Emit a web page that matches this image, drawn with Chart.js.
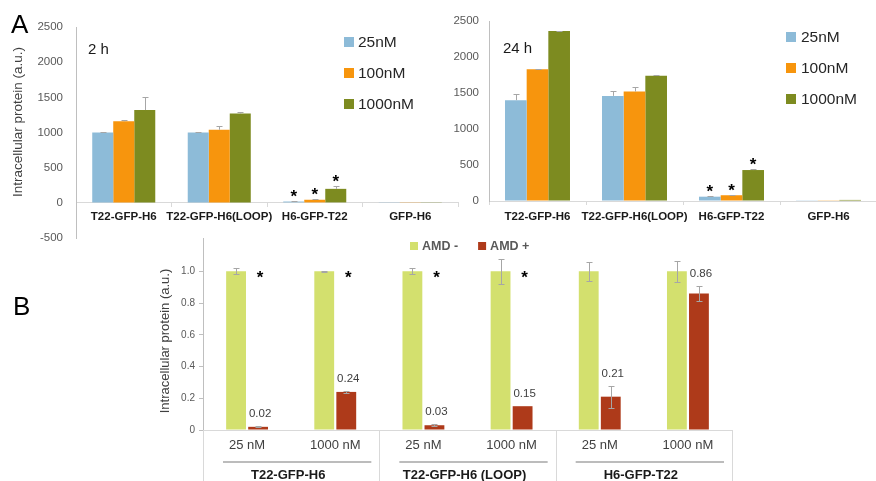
<!DOCTYPE html>
<html>
<head>
<meta charset="utf-8">
<script src="https://cdn.jsdelivr.net/npm/chart.js@4.4.1/dist/chart.umd.min.js"></script>
<style>
html, body { margin: 0; padding: 0; background: #fff; overflow: hidden; }
#wrap { position: relative; width: 876px; height: 481px; }
canvas { position: absolute; }
.lbl { position: absolute; font-family: 'Liberation Sans', Arial, sans-serif; color: #000; white-space: nowrap; line-height: 1; }
</style>
</head>
<body>
<div id="wrap">
  <canvas id="c2h" width="470" height="258" style="left:0;top:0"></canvas>
  <canvas id="c24h" width="440" height="235" style="left:440px;top:0"></canvas>
  <canvas id="cB" width="600" height="253" style="left:150px;top:228px"></canvas>
  <div class="lbl" style="left:11px;top:11px;font-size:26px">A</div>
  <div class="lbl" style="left:13px;top:293px;font-size:26px">B</div>
  <div class="lbl" style="left:88px;top:41px;font-size:15px;color:#1a1a1a">2 h</div>
  <div class="lbl" style="left:503px;top:40px;font-size:15px;color:#1a1a1a">24 h</div>
</div>
<script>
const FONT = "'Liberation Sans', Arial, sans-serif";
Chart.defaults.font.family = FONT;
Chart.defaults.animation = false;

// Panel A: intracellular protein at 2 h and 24 h
const concentrations = ['25nM', '100nM', '1000nM'];
const concColors = ['#8DBBD8', '#F7950D', '#7D8B20'];
const constructsA = ['T22-GFP-H6', 'T22-GFP-H6(LOOP)', 'H6-GFP-T22', 'GFP-H6'];
const ticks2h = [-500, 0, 500, 1000, 1500, 2000, 2500];
const ticks24h = [0, 500, 1000, 1500, 2000, 2500];
const starsA = [false, false, true, false];

const h2_25 = [1000, 1000, 20, 4];
const h2_100 = [1160, 1040, 45, 4];
const h2_1000 = [1320, 1270, 200, 4];
const h2_25Err = [5, 5, 8, 0];
const h2_100Err = [15, 60, 10, 0];
const h2_1000Err = [180, 20, 35, 0];

const h24_25 = [1400, 1460, 60, 10];
const h24_100 = [1830, 1520, 80, 10];
const h24_1000 = [2360, 1740, 430, 15];
const h24_25Err = [80, 70, 5, 0];
const h24_100Err = [10, 60, 5, 0];
const h24_1000Err = [5, 5, 8, 0];

// Panel B: effect of AMD3100
const doseB = ['25 nM', '1000 nM', '25 nM', '1000 nM', '25 nM', '1000 nM'];
const constructsB = ['T22-GFP-H6', 'T22-GFP-H6 (LOOP)', 'H6-GFP-T22'];
const amdLabels = ['AMD -', 'AMD +'];
const amdColors = ['#D3E06E', '#AE3A1A'];
const amdMinus = [1, 1, 1, 1, 1, 1];
const amdMinusErr = [0.02, 0.005, 0.02, 0.08, 0.06, 0.065];
const amdPlus = [0.02, 0.24, 0.03, 0.15, 0.21, 0.86];
const amdPlusErr = [0.004, 0.005, 0.006, 0, 0.07, 0.05];
const starsB = [true, true, true, true, false, false];
const ticksB = [0, 0.2, 0.4, 0.6, 0.8, 1.0];

// ---- small plugins ----
function errorBars(errs, both) {
    return {
        id: 'errorBars',
        afterDatasetsDraw(chart) {
            const ctx = chart.ctx, y = chart.scales.y;
            ctx.save();
            ctx.strokeStyle = '#A6A6A6';
            ctx.lineWidth = 1;
            errs.forEach((list, di) => {
                const vals = chart.data.datasets[di].data;
                chart.getDatasetMeta(di).data.forEach((bar, i) => {
                    const e = list[i];
                    if (!e) return;
                    const x = Math.round(bar.x) + 0.5;
                    const top = Math.round(y.getPixelForValue(vals[i] + e)) + 0.5;
                    const bot = both ? Math.round(y.getPixelForValue(vals[i] - e)) + 0.5 : bar.y;
                    ctx.beginPath();
                    ctx.moveTo(x, top); ctx.lineTo(x, bot);
                    ctx.moveTo(x - 3, top); ctx.lineTo(x + 3, top);
                    if (both) { ctx.moveTo(x - 3, bot); ctx.lineTo(x + 3, bot); }
                    ctx.stroke();
                });
            });
            ctx.restore();
        }
    };
}

function drawStar(ctx, x, cy) {
    ctx.font = 'bold 17px ' + FONT;
    ctx.fillStyle = '#000';
    ctx.textAlign = 'center';
    ctx.textBaseline = 'alphabetic';
    ctx.fillText('*', x, cy + 10);
}

function starsOnBars(flags, errs, offset) {
    return {
        id: 'starsOnBars',
        afterDatasetsDraw(chart) {
            const ctx = chart.ctx, y = chart.scales.y;
            ctx.save();
            chart.data.datasets.forEach((ds, di) => {
                chart.getDatasetMeta(di).data.forEach((bar, i) => {
                    if (!flags[i]) return;
                    drawStar(ctx, bar.x, y.getPixelForValue(ds.data[i] + errs[di][i]) - offset);
                });
            });
            ctx.restore();
        }
    };
}

function yTitle(text, x, y, size) {
    return {
        id: 'yTitle',
        afterDraw(chart) {
            const ctx = chart.ctx;
            ctx.save();
            ctx.translate(x, y);
            ctx.rotate(-Math.PI / 2);
            ctx.font = size + 'px ' + FONT;
            ctx.fillStyle = '#404040';
            ctx.textAlign = 'center';
            ctx.textBaseline = 'middle';
            ctx.fillText(text, 0, 0);
            ctx.restore();
        }
    };
}

function boxLegend(o) {
    return {
        id: 'boxLegend',
        afterDraw(chart) {
            const ctx = chart.ctx;
            ctx.save();
            ctx.font = o.font;
            ctx.textBaseline = 'middle';
            ctx.textAlign = 'left';
            let cx = o.x;
            chart.data.datasets.forEach((ds, i) => {
                const cy = o.horizontal ? o.y : o.y + i * o.dy;
                ctx.fillStyle = ds.backgroundColor;
                ctx.fillRect(cx, cy - o.box / 2, o.box, o.box);
                ctx.fillStyle = o.color;
                ctx.fillText(ds.label, cx + o.box + o.gap, cy + 1);
                if (o.horizontal) cx += o.box + o.gap + ctx.measureText(ds.label).width + o.spacing;
            });
            ctx.restore();
        }
    };
}

// ---- panel A ----
function makePanelA(id, series, errs, cfg) {
    return new Chart(document.getElementById(id), {
        type: 'bar',
        data: {
            labels: constructsA,
            datasets: series.map((d, i) => ({
                label: concentrations[i],
                data: d,
                backgroundColor: concColors[i],
                categoryPercentage: cfg.cat,
                barPercentage: 1
            }))
        },
        options: {
            responsive: false,
            events: [],
            layout: { padding: cfg.padding },
            plugins: { legend: { display: false }, tooltip: { enabled: false } },
            scales: {
                x: {
                    position: cfg.xPos,
                    grid: { display: true, drawOnChartArea: false, drawTicks: true, tickLength: 4, color: '#D9D9D9' },
                    border: { color: '#D9D9D9' },
                    ticks: {
                        padding: cfg.xPad, maxRotation: 0, minRotation: 0, autoSkip: false,
                        color: '#1a1a1a', font: { size: 11.5, weight: 'bold' }
                    },
                    afterFit: s => { s.height = cfg.xHeight; }
                },
                y: {
                    min: cfg.ticks[0],
                    max: cfg.ticks[cfg.ticks.length - 1],
                    afterBuildTicks: s => { s.ticks = cfg.ticks.map(v => ({ value: v })); },
                    grid: { display: true, drawOnChartArea: false, drawTicks: false },
                    border: { color: '#BFBFBF' },
                    ticks: { padding: cfg.yPad, color: '#595959', font: { size: 11.5 }, callback: v => String(v) },
                    afterFit: s => { s.width = cfg.yWidth; }
                }
            }
        },
        plugins: [
            errorBars(errs, false),
            starsOnBars(starsA, errs, 9),
            boxLegend(cfg.legend)
        ].concat(cfg.extra || [])
    });
}

makePanelA('c2h', [h2_25, h2_100, h2_1000], [h2_25Err, h2_100Err, h2_1000Err], {
    cat: 0.66,
    padding: { left: 0, top: 27, right: 12, bottom: 0 },
    xPos: { y: 0 },
    xPad: 3,
    xHeight: 0,
    yPad: 13,
    yWidth: 76,
    ticks: ticks2h,
    legend: { x: 344, y: 42, dy: 31, box: 10, gap: 4, font: '15.5px ' + FONT, color: '#262626' },
    extra: [yTitle('Intracellular protein (a.u.)', 18, 122, 13.5)]
});

makePanelA('c24h', [h24_25, h24_100, h24_1000], [h24_25Err, h24_100Err, h24_1000Err], {
    cat: 0.67,
    padding: { left: 0, top: 21, right: 3, bottom: 0 },
    xPos: 'bottom',
    xPad: 5,
    xHeight: 34,
    yPad: 10,
    yWidth: 49,
    ticks: ticks24h,
    legend: { x: 346, y: 37, dy: 31, box: 10, gap: 5, font: '15.5px ' + FONT, color: '#262626' }
});

// ---- panel B ----
const barLabelsB = {
    id: 'barLabelsB',
    afterDatasetsDraw(chart) {
        const ctx = chart.ctx, y = chart.scales.y;
        const plusMeta = chart.getDatasetMeta(1);
        ctx.save();
        plusMeta.data.forEach((bar, i) => {
            ctx.font = '11.5px ' + FONT;
            ctx.fillStyle = '#404040';
            ctx.textAlign = 'center';
            ctx.textBaseline = 'middle';
            ctx.fillText(amdPlus[i].toFixed(2), bar.x + 2, y.getPixelForValue(amdPlus[i] + amdPlusErr[i]) - 12);
            if (starsB[i]) drawStar(ctx, bar.x + 2, y.getPixelForValue(amdMinus[i]) + 2);
        });
        ctx.restore();
    }
};

const groupTable = {
    id: 'groupTable',
    afterDraw(chart) {
        const ctx = chart.ctx, x = chart.scales.x;
        const top = x.top, bottom = chart.height;
        ctx.save();
        ctx.strokeStyle = '#D9D9D9';
        ctx.lineWidth = 1;
        for (let g = 0; g <= constructsB.length; g++) {
            const px = Math.round(x.getPixelForValue(g * 2 - 0.5)) + 0.5;
            ctx.beginPath(); ctx.moveTo(px, top); ctx.lineTo(px, bottom); ctx.stroke();
        }
        constructsB.forEach((name, g) => {
            const left = x.getPixelForValue(g * 2 - 0.5);
            const right = x.getPixelForValue(g * 2 + 1.5);
            ctx.strokeStyle = '#A6A6A6';
            ctx.lineWidth = 1.5;
            ctx.beginPath(); ctx.moveTo(left + 20, top + 32); ctx.lineTo(right - 8, top + 32); ctx.stroke();
            ctx.fillStyle = '#1a1a1a';
            ctx.font = 'bold 13px ' + FONT;
            ctx.textAlign = 'center';
            ctx.textBaseline = 'middle';
            ctx.fillText(name, (left + right) / 2 - 3, top + 45);
        });
        ctx.restore();
    }
};

new Chart(document.getElementById('cB'), {
    type: 'bar',
    data: {
        labels: doseB,
        datasets: [
            { label: amdLabels[0], data: amdMinus, backgroundColor: amdColors[0], categoryPercentage: 0.5, barPercentage: 0.9 },
            { label: amdLabels[1], data: amdPlus, backgroundColor: amdColors[1], categoryPercentage: 0.5, barPercentage: 0.9 }
        ]
    },
    options: {
        responsive: false,
        events: [],
        layout: { padding: { left: 0, top: 10, right: 18, bottom: 0 } },
        plugins: { legend: { display: false }, tooltip: { enabled: false } },
        scales: {
            x: {
                grid: { display: false, drawTicks: false },
                border: { color: '#D9D9D9' },
                ticks: { padding: 8, maxRotation: 0, autoSkip: false, color: '#404040', font: { size: 13 } },
                afterFit: s => { s.height = 51; }
            },
            y: {
                min: 0,
                max: 1.21,
                afterBuildTicks: s => { s.ticks = ticksB.map(v => ({ value: v })); },
                grid: { display: true, drawOnChartArea: false, drawTicks: true, tickLength: 4, color: '#BFBFBF' },
                border: { color: '#BFBFBF' },
                ticks: { padding: 4, color: '#595959', font: { size: 10 }, callback: v => v === 0 ? '0' : v.toFixed(1) },
                afterFit: s => { s.width = 53; }
            }
        }
    },
    plugins: [
        errorBars([amdMinusErr, amdPlusErr], true),
        barLabelsB,
        groupTable,
        yTitle('Intracellular protein (a.u.)', 15, 113, 13),
        boxLegend({ horizontal: true, x: 260, y: 18, box: 8, gap: 4, spacing: 20, font: 'bold 12.5px ' + FONT, color: '#595959' })
    ]
});
</script>
</body>
</html>
